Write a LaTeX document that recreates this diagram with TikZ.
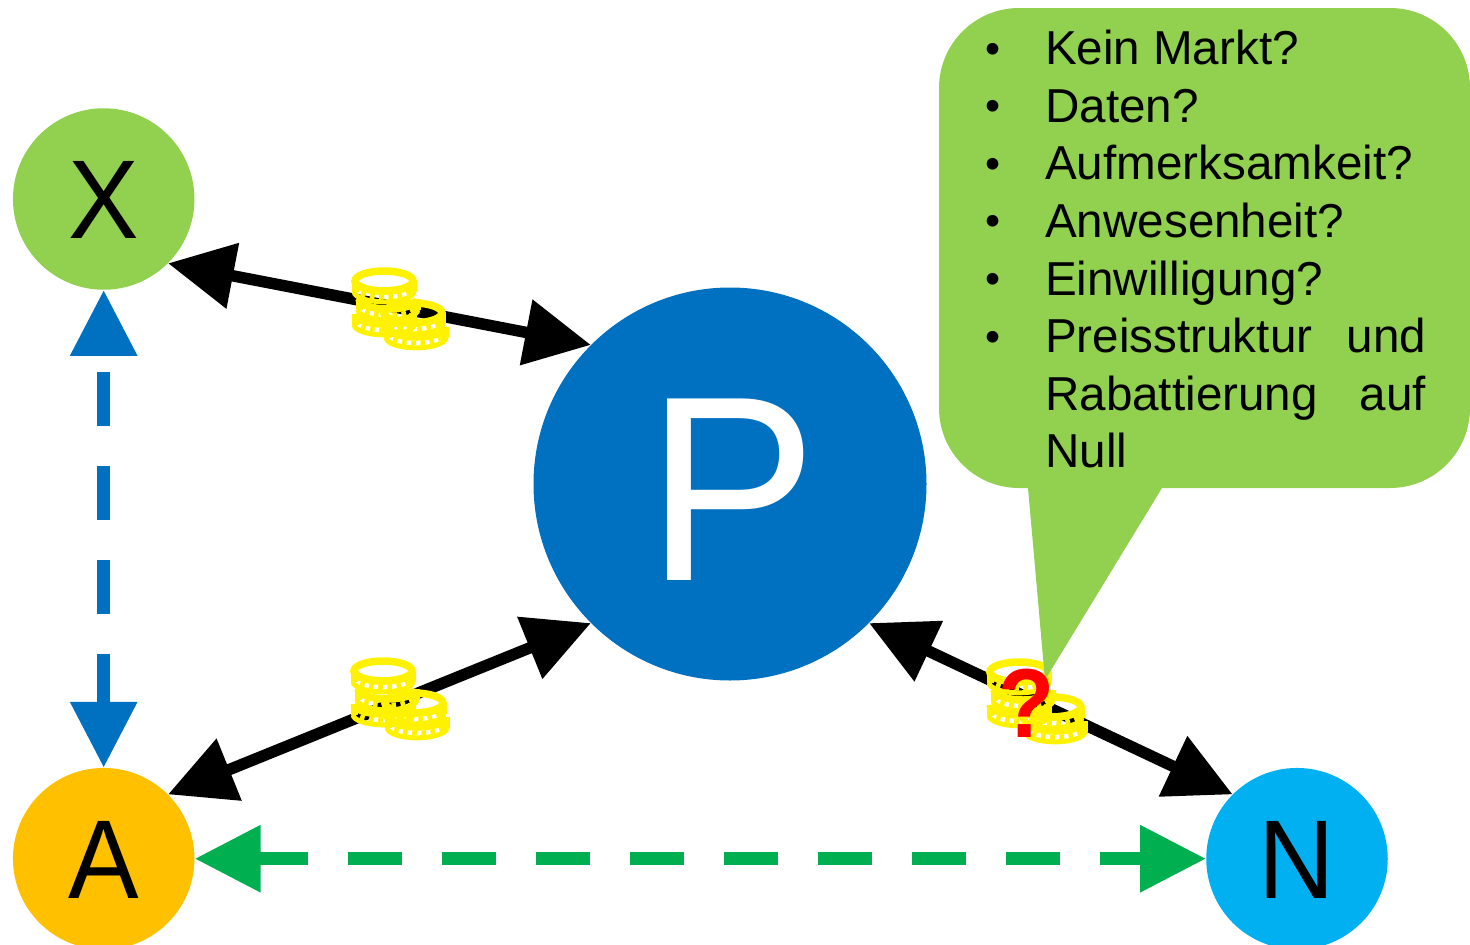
\documentclass[tikz,border=0pt]{standalone}
\usepackage{graphicx}
\usepackage{fontspec}
\setmainfont{Liberation Sans}
\usetikzlibrary{arrows.meta}
\definecolor{lgreen}{HTML}{92D050}
\definecolor{pblue}{HTML}{0070C0}
\definecolor{aorange}{HTML}{FFC000}
\definecolor{nblue}{HTML}{00B0F0}
\definecolor{dgreen}{HTML}{00B050}
\newcommand{\blt}{\makebox[0pt][r]{\makebox[60pt][l]{\fontsize{43}{43}\selectfont\raisebox{1.5pt}{•}}}}
\newcommand{\bulletline}[1]{\blt\makebox[381pt][l]{#1}}
\newcommand{\justline}[2]{\makebox[381pt][s]{#1\hfill #2}}
\newcommand{\lowered}[2]{\raisebox{-#1pt}[0pt][0pt]{#2}}
\tikzset{
  actor/.style={circle,inner sep=0pt,minimum size=181.5pt,font=\fontsize{112}{112}\selectfont},
  bigarrow/.style={line width=11.5pt,black,{Triangle[length=66pt,width=64pt]}-{Triangle[length=66pt,width=64pt]}},
  dasharrow/.style={line width=13pt,{Triangle[length=66pt,width=64pt]}-{Triangle[length=66pt,width=64pt]},dash pattern=on 54pt off 40pt},
  coinedge/.style={yellow,line width=7.5pt},
  coinband/.pic={
    \draw[yellow,line width=7pt,line cap=butt] (-29,0) -- (-29,11);
    \draw[yellow,line width=7pt,line cap=butt] (29,0) -- (29,11);
    \draw[yellow,line width=5pt] (-29.8,10.8) arc[start angle=180,end angle=360,x radius=29.8pt,y radius=10pt];
    \draw[yellow,line width=5pt,dash pattern=on 4.6pt off 4.6pt] (-29,6.2) arc[start angle=180,end angle=360,x radius=29pt,y radius=10pt];
    \draw[coinedge] (-29,0) arc[start angle=180,end angle=360,x radius=29pt,y radius=10pt];
  },
  coinstack/.pic={
    \pic at (0,33) {coinband};
    \pic at (4,18) {coinband};
    \pic at (0,0) {coinband};
    \draw[coinedge] (0,0) ellipse[x radius=29pt,y radius=10pt];
  },
  coinstackb/.pic={
    \pic at (3,14) {coinband};
    \pic at (0,0) {coinband};
    \draw[coinedge] (0,0) ellipse[x radius=29pt,y radius=10pt];
  }
}
\begin{document}
\begin{tikzpicture}[x=1pt,y=-1pt]
\useasboundingbox (0,0) rectangle (1470,945);
\node[actor,fill=lgreen] (X) at (103.7,199) {\lowered{39.5}{\scalebox{0.945}[1]{X}}};
\node[actor,fill=aorange] (A) at (103.7,858.7) {\lowered{39.3}{\scalebox{0.945}[1]{A}}};
\node[actor,fill=nblue] (N) at (1297,858.7) {\lowered{39.3}{\scalebox{0.945}[1]{N}}};
\node[circle,inner sep=0pt,minimum size=393pt,fill=pblue,text=white,font=\fontsize{268}{268}\selectfont] (P) at (730,484) {\lowered{96}{\kern3pt \scalebox{0.955}[0.985]{P}}};
\draw[bigarrow] (X.-45) -- (P.135);
\draw[bigarrow] (A.45) -- (P.225);
\draw[bigarrow] (P.-45) -- (N.135);
\draw[dasharrow,pblue,dash phase=75pt] (X.south) -- (A.north);
\draw[dasharrow,dgreen,dash phase=3pt] (A.east) -- (N.west);
\pic at (384,281) {coinstack};
\pic at (413,313) {coinstackb};
\pic at (383,671) {coinstack};
\pic at (414,703) {coinstackb};
\pic at (1019,672) {coinstack};
\pic at (1052,707) {coinstackb};
\fill[lgreen] (1019,8) -- (1390,8) arc[start angle=90,end angle=0,radius=80pt]
  -- (1470,408) arc[start angle=0,end angle=-90,radius=80pt]
  -- (1162,488) -- (1045,680) -- (1028,488) -- (1019,488)
  arc[start angle=-90,end angle=-180,radius=80pt]
  -- (939,88) arc[start angle=180,end angle=90,radius=80pt] -- cycle;
\node[anchor=north west,inner sep=0pt,text width=381pt,align=left,font=\fontsize{47.6}{57.6}\selectfont] (T) at (1045,30) {%
\bulletline{Kein\kern-3pt{} Markt?}\\
\bulletline{Daten?}\\
\bulletline{Aufmerksamkeit?}\\
\bulletline{Anwesenheit?}\\
\bulletline{Einwilligung?}\\
\blt\justline{Preisstruktur}{und}\\
\justline{Rabattierung}{auf}\\
Null};
\node[inner sep=0pt,text=red,font=\fontsize{98}{98}\bfseries\selectfont] (Q) at (1026.5,703) {\scalebox{0.94}[1]{?}};
\end{tikzpicture}
\end{document}
